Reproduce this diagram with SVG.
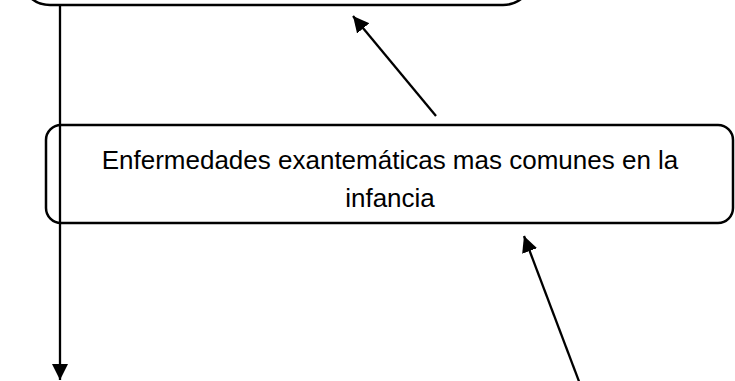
<svg xmlns="http://www.w3.org/2000/svg" width="735" height="381" viewBox="0 0 735 381">
<style>
.box{fill:none;stroke:#000;stroke-width:2.5}
.conn{fill:none;stroke:#000;stroke-width:2.3}
.lbl{font-family:"Liberation Sans",Arial,sans-serif;font-size:26px;fill:#000;text-anchor:middle}
</style>
<defs>
<marker id="ah" markerUnits="userSpaceOnUse" markerWidth="18" markerHeight="18" viewBox="0 0 18 18" refX="16" refY="9" orient="auto">
<path d="M0,1 L16,9 L0,17 Z" fill="#000"/>
</marker>
</defs>
<rect width="735" height="381" fill="#fff"/>
<g id="node-top">
<rect class="box" x="20" y="-60" width="513" height="65" rx="30" ry="30"/>
</g>
<g id="node-main">
<rect class="box" x="46" y="125" width="687" height="98" rx="15" ry="15"/>
<text class="lbl" x="390" y="169">Enfermedades exantemáticas mas comunes en la</text>
<text class="lbl" x="390" y="207">infancia</text>
</g>
<g id="connectors">
<line class="conn" x1="60" y1="4" x2="60" y2="380" marker-end="url(#ah)"/>
<line class="conn" x1="436" y1="116" x2="353" y2="16" marker-end="url(#ah)"/>
<line class="conn" x1="580" y1="384" x2="524" y2="236" marker-end="url(#ah)"/>
</g>
</svg>
